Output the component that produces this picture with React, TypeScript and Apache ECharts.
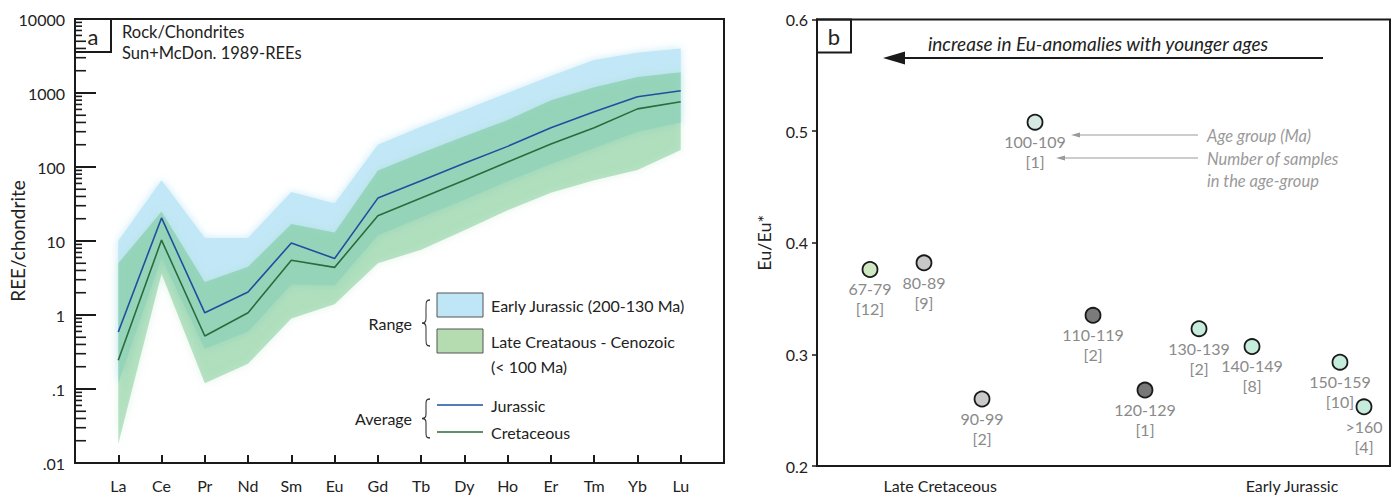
import React, { useEffect, useRef } from 'react';
import * as echarts from 'echarts';

// ---------- Panel a: REE / chondrite ----------
const elements = ['La', 'Ce', 'Pr', 'Nd', 'Sm', 'Eu', 'Gd', 'Tb', 'Dy', 'Ho', 'Er', 'Tm', 'Yb', 'Lu'];
const jurassicAvg = [0.59, 20.5, 1.07, 2.05, 9.4, 5.8, 38, 65, 112, 190, 340, 560, 890, 1070];
const cretaceousAvg = [0.245, 10.3, 0.52, 1.07, 5.5, 4.4, 22, 38, 66, 117, 205, 340, 610, 760];
const jurassicRangeHigh = [10, 66, 11, 11, 46, 32, 200, 350, 590, 1000, 1700, 2800, 3500, 4000];
const jurassicRangeLow = [0.12, 6, 0.35, 0.6, 2.6, 2.5, 12, 21, 36, 64, 110, 180, 300, 400];
const cretaceousRangeHigh = [5, 25, 2.8, 4.5, 17, 13, 90, 155, 260, 430, 800, 1200, 1650, 1900];
const cretaceousRangeLow = [0.018, 3.6, 0.12, 0.22, 0.9, 1.4, 5, 7.6, 14, 26, 45, 66, 91, 170];
const logTickLabels = ['.01', '.1', '1', '10', '100', '1000', '10000'];
const minorTickValues: number[] = [];
[0.01, 0.1, 1, 10, 100, 1000].forEach((d) => {
  for (let m = 2; m <= 9; m++) minorTickValues.push(+(d * m).toPrecision(3));
});

// ---------- Panel b: Eu/Eu* ----------
const ageGroups = ['67-79', '80-89', '90-99', '100-109', '110-119', '120-129', '130-139', '140-149', '150-159', '>160'];
const sampleCounts = [12, 9, 2, 1, 2, 1, 2, 8, 10, 4];
const euRatio = [0.376, 0.382, 0.26, 0.508, 0.335, 0.268, 0.323, 0.307, 0.293, 0.253];
const agePosition = [9.25, 18.67, 28.8, 38.05, 48.17, 57.24, 66.67, 75.92, 91.27, 95.46];
const pointFills = ['#cfe8c2', '#c8c8c8', '#cacaca', '#d5e8e1', '#7b7b7b', '#787878', '#c6eddc', '#c6eddc', '#c6eddc', '#c6eddc'];
const periodLabels = ['Late Cretaceous', 'Early Jurassic'];
const periodPositions = [21.5, 82.9];

const FONT = 'Lato, "Noto Sans", sans-serif';
const INK = '#1a1a1a';

echarts.graphic.registerShape(
  'brace',
  echarts.graphic.extendPath('M10,0 C5,0 5,2 5,6 L5,16 C5,19 3,20 0,20 C3,20 5,21 5,24 L5,34 C5,38 5,40 10,40', {})
);

function bandSeries(high: number[], low: number[], fill: string, glow: string) {
  return {
    type: 'custom',
    xAxisIndex: 0,
    yAxisIndex: 0,
    silent: true,
    data: [[1, 1]],
    renderItem: (_p: any, api: any) => {
      const pts: number[][] = [];
      high.forEach((v, i) => pts.push(api.coord([i + 1, v])));
      for (let i = low.length - 1; i >= 0; i--) pts.push(api.coord([i + 1, low[i]]));
      return {
        type: 'polygon',
        shape: { points: pts },
        style: { fill, stroke: 'none', shadowBlur: 8, shadowColor: glow, shadowOffsetX: 0, shadowOffsetY: 0 },
      };
    },
  };
}

export default function App() {
  const ref = useRef<HTMLDivElement>(null);
  useEffect(() => {
    if (!ref.current) return;
    const chart = echarts.init(ref.current, undefined, { renderer: 'svg' });
    const txt = (x: number, y: number, text: string, extra: any = {}) => ({
      type: 'text',
      x,
      y,
      style: { text, fontFamily: FONT, fontSize: 16, fill: '#222', align: 'left', verticalAlign: 'middle', ...extra },
    });
    const option: any = {
      animation: false,
      textStyle: { fontFamily: FONT },
      grid: [
        { left: 75, top: 19, width: 649, height: 444, show: true, borderColor: INK, borderWidth: 2, backgroundColor: 'transparent' },
        { left: 817, top: 19.5, width: 573, height: 446.5, show: true, borderColor: INK, borderWidth: 2, backgroundColor: 'transparent' },
      ],
      xAxis: [
        {
          gridIndex: 0,
          type: 'value',
          min: 0,
          max: 15,
          splitLine: { show: false },
          axisLine: { lineStyle: { color: INK, width: 2 } },
          axisTick: { inside: true, length: 8, lineStyle: { color: INK, width: 2 }, customValues: elements.map((_, i) => i + 1) },
          axisLabel: {
            customValues: elements.map((_, i) => i + 1),
            formatter: (v: number) => elements[Math.round(v) - 1] || '',
            fontSize: 16,
            color: '#222',
            margin: 14,
          },
        },
        {
          gridIndex: 1,
          type: 'value',
          min: 0,
          max: 100,
          splitLine: { show: false },
          axisLine: { lineStyle: { color: INK, width: 2 } },
          axisTick: { show: false },
          axisLabel: {
            customValues: periodPositions,
            formatter: (v: number) => periodLabels[periodPositions.indexOf(v)] || '',
            fontSize: 16,
            color: '#222',
            margin: 11,
          },
        },
      ],
      yAxis: [
        {
          gridIndex: 0,
          type: 'log',
          logBase: 10,
          min: 0.01,
          max: 10000,
          name: 'REE/chondrite',
          nameLocation: 'middle',
          nameGap: 48,
          nameMoveOverlap: false,
          nameTextStyle: { fontSize: 19, color: '#222', fontFamily: FONT },
          splitLine: { show: false },
          axisLine: { show: true, lineStyle: { color: INK, width: 2 } },
          axisTick: { inside: true, length: 21, lineStyle: { color: INK, width: 2 } },
          axisLabel: {
            fontSize: 16,
            color: '#222',
            margin: 10,
            formatter: (v: number) => logTickLabels[Math.round(Math.log10(v)) + 2] || '',
          },
        },
        {
          gridIndex: 1,
          type: 'value',
          min: 0.2,
          max: 0.6,
          interval: 0.1,
          name: 'Eu/Eu*',
          nameLocation: 'middle',
          nameGap: 44,
          nameMoveOverlap: false,
          nameTextStyle: { fontSize: 18, color: '#222', fontFamily: FONT },
          splitLine: { show: false },
          axisLine: { show: true, lineStyle: { color: INK, width: 2 } },
          axisTick: { inside: false, length: 5, lineStyle: { color: INK, width: 1.5 } },
          axisLabel: { fontSize: 16, color: '#222', margin: 9, formatter: (v: number) => v.toFixed(1) },
        },
      ],
      series: [
        bandSeries(jurassicRangeHigh, jurassicRangeLow, '#c2e7f6', 'rgba(194,231,246,0.9)'),
        bandSeries(cretaceousRangeHigh, cretaceousRangeLow, 'rgba(95,190,125,0.42)', 'rgba(150,215,170,0.6)'),
        {
          name: 'Jurassic',
          type: 'line',
          xAxisIndex: 0,
          yAxisIndex: 0,
          symbol: 'none',
          data: jurassicAvg.map((v, i) => [i + 1, v]),
          lineStyle: { color: '#1f4f9f', width: 1.6 },
        },
        {
          name: 'Cretaceous',
          type: 'line',
          xAxisIndex: 0,
          yAxisIndex: 0,
          symbol: 'none',
          data: cretaceousAvg.map((v, i) => [i + 1, v]),
          lineStyle: { color: '#2b6b3c', width: 1.6 },
        },
        {
          type: 'custom',
          xAxisIndex: 0,
          yAxisIndex: 0,
          silent: true,
          z: 5,
          data: minorTickValues.map((v) => [0, v]),
          renderItem: (_p: any, api: any) => {
            const v = api.value(1);
            const p = api.coord([0, v]);
            const mant = Math.round(v / Math.pow(10, Math.floor(Math.log10(v) + 1e-9)));
            const len = mant <= 5 ? 11 : 7;
            return {
              type: 'line',
              shape: { x1: p[0], y1: p[1], x2: p[0] + len, y2: p[1] },
              style: { stroke: INK, lineWidth: 1.6 },
            };
          },
        },
        {
          type: 'scatter',
          xAxisIndex: 1,
          yAxisIndex: 1,
          symbolSize: 15,
          itemStyle: { borderColor: INK, borderWidth: 1.8, opacity: 1 },
          label: {
            show: true,
            position: 'bottom',
            distance: 1,
            fontSize: 16,
            lineHeight: 20,
            color: '#8a8a8a',
            fontFamily: FONT,
          },
          data: euRatio.map((v, i) => ({
            value: [agePosition[i], v],
            itemStyle: { color: pointFills[i] },
            label: { formatter: `${ageGroups[i]}\n[${sampleCounts[i]}]` },
          })),
        },
      ],
      graphic: [
        // panel a annotations
        { type: 'rect', shape: { x: 75, y: 19, width: 36, height: 33 }, style: { fill: 'none', stroke: INK, lineWidth: 2 } },
        txt(93, 36, 'a', { fontSize: 22, align: 'center' }),
        txt(122, 32, 'Rock/Chondrites', { fontSize: 16.5 }),
        txt(122, 53, 'Sun+McDon. 1989-REEs', { fontSize: 16.5 }),
        txt(412, 323, 'Range', { align: 'right' }),
        { type: 'brace', x: 422, y: 300, scaleX: 0.8, scaleY: 46 / 40, style: { fill: 'none', stroke: '#333', lineWidth: 1.2, strokeNoScale: true } },
        { type: 'rect', shape: { x: 437, y: 293, width: 46, height: 24 }, style: { fill: '#bfe6f6', stroke: '#555', lineWidth: 1 } },
        { type: 'rect', shape: { x: 437, y: 329, width: 46, height: 24 }, style: { fill: '#b4dcb0', stroke: '#555', lineWidth: 1 } },
        txt(491, 305, 'Early Jurassic (200-130 Ma)'),
        txt(491, 341, 'Late Creataous - Cenozoic'),
        txt(491, 366, '(< 100 Ma)'),
        txt(412, 418, 'Average', { align: 'right' }),
        { type: 'brace', x: 422, y: 399, scaleX: 0.8, scaleY: 39 / 40, style: { fill: 'none', stroke: '#333', lineWidth: 1.2, strokeNoScale: true } },
        { type: 'line', shape: { x1: 437, y1: 405, x2: 483, y2: 405 }, style: { stroke: '#1f4f9f', lineWidth: 1.6 } },
        { type: 'line', shape: { x1: 437, y1: 432, x2: 483, y2: 432 }, style: { stroke: '#2b6b3c', lineWidth: 1.6 } },
        txt(491, 405, 'Jurassic'),
        txt(491, 432, 'Cretaceous'),
        // panel b annotations
        { type: 'rect', shape: { x: 817, y: 19.5, width: 34, height: 33 }, style: { fill: 'none', stroke: INK, lineWidth: 2 } },
        txt(834, 36, 'b', { fontSize: 22, align: 'center' }),
        txt(1098, 43, 'increase in Eu-anomalies with younger ages', { fontStyle: 'italic', align: 'center', fontSize: 19 }),
        { type: 'line', shape: { x1: 898, y1: 58, x2: 1323, y2: 58 }, style: { stroke: INK, lineWidth: 2 } },
        { type: 'polygon', shape: { points: [[883, 58], [905, 51.5], [905, 64.5]] }, style: { fill: INK } },
        { type: 'line', shape: { x1: 1078, y1: 135, x2: 1198, y2: 135 }, style: { stroke: '#9a9a9a', lineWidth: 1 } },
        { type: 'polygon', shape: { points: [[1071, 135], [1080, 132.5], [1080, 137.5]] }, style: { fill: '#9a9a9a' } },
        { type: 'line', shape: { x1: 1063, y1: 158, x2: 1198, y2: 158 }, style: { stroke: '#9a9a9a', lineWidth: 1 } },
        { type: 'polygon', shape: { points: [[1056, 158], [1065, 155.5], [1065, 160.5]] }, style: { fill: '#9a9a9a' } },
        txt(1207, 136, 'Age group (Ma)', { fontStyle: 'italic', fill: '#9a9a9a', fontSize: 16.5 }),
        txt(1207, 159, 'Number of samples', { fontStyle: 'italic', fill: '#9a9a9a', fontSize: 16.5 }),
        txt(1207, 181, 'in the age-group', { fontStyle: 'italic', fill: '#9a9a9a', fontSize: 16.5 }),
      ],
    };
    chart.setOption(option);
    return () => chart.dispose();
  }, []);
  return <div ref={ref} style={{ position: 'absolute', left: 0, top: 0, width: 1399, height: 496, background: '#fff' }} />;
}
